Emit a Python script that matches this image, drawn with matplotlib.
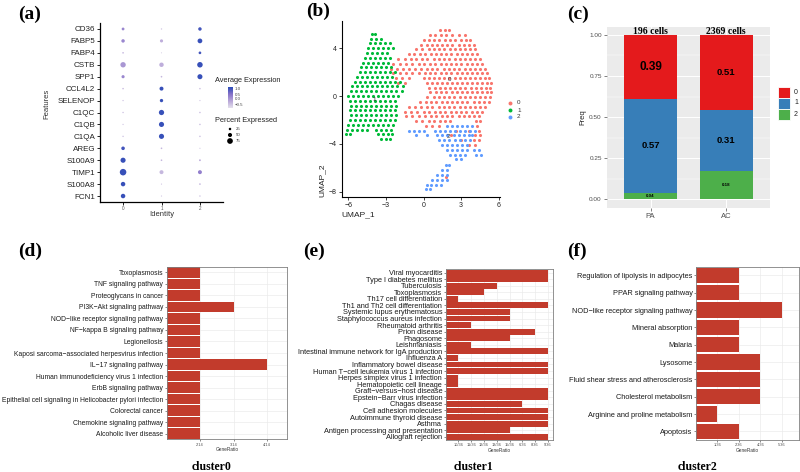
import numpy as np
import matplotlib
matplotlib.use("Agg")
import matplotlib.pyplot as plt
from matplotlib.colors import LinearSegmentedColormap
from matplotlib.patches import Rectangle

plt.rcParams['font.family'] = ['Liberation Sans', 'DejaVu Sans']
SERIF = 'Liberation Serif'

# ---------------- data ----------------
# (a) dot plot
genes = ["CD36", "FABP5", "FABP4", "CSTB", "SPP1", "CCL4L2", "SELENOP", "C1QC",
         "C1QB", "C1QA", "AREG", "S100A9", "TIMP1", "S100A8", "FCN1"]
identity = ["0", "1", "2"]
avg_exp = [[0.2, -0.6, 1.0], [0.2, -0.3, 1.1], [-0.3, -0.7, 1.0], [0.0, -0.3, 1.1],
           [0.2, -0.4, 1.1], [-0.4, 1.1, -0.5], [-0.5, 1.1, -0.6], [-0.5, 1.1, -0.5],
           [-0.6, 1.1, -0.5], [-0.5, 1.1, -0.5], [1.0, -0.4, -0.6], [1.1, -0.4, -0.3],
           [1.1, -0.4, 0.3], [1.1, -0.6, -0.4], [1.1, -0.6, -0.5]]
pct_exp = [[30, 8, 40], [40, 35, 60], [10, 3, 28], [70, 55, 72], [35, 12, 65],
           [10, 48, 10], [6, 38, 5], [8, 68, 10], [6, 66, 10], [8, 66, 10],
           [42, 12, 4], [66, 12, 15], [88, 48, 48], [56, 5, 12], [56, 5, 8]]
pct_keys = [25, 50, 75]

# (b) UMAP, rows of (y, [x ...])
umap_c0 = [
    (5.5, [1.3, 1.7, 2.0]),
    (5.1, [0.5, 0.9, 1.4, 1.8, 2.3, 2.8, 3.3]),
    (4.7, [0.0, 0.4, 0.8, 1.2, 1.7, 2.1, 2.5, 3.0, 3.4, 3.7]),
    (4.3, [-0.2, 0.3, 0.7, 1.1, 1.5, 1.9, 2.3, 2.8, 3.2, 3.6, 4.0]),
    (3.9, [-0.6, -0.1, 0.4, 0.8, 1.2, 1.6, 2.1, 2.5, 2.9, 3.3, 3.7, 4.1]),
    (3.5, [-1.2, -0.8, -0.3, 0.1, 0.6, 1.0, 1.4, 1.8, 2.2, 2.7, 3.1, 3.5, 3.9, 4.3]),
    (3.1, [-2.0, -1.5, -1.0, -0.6, -0.1, 0.3, 0.8, 1.2, 1.6, 2.0, 2.5, 2.9, 3.3, 3.7, 4.1, 4.5]),
    (2.7, [-2.4, -1.9, -1.4, -0.9, -0.4, 0.0, 0.5, 0.9, 1.4, 1.8, 2.2, 2.6, 3.0, 3.5, 3.9, 4.3, 4.7]),
    (2.3, [-2.6, -2.1, -1.6, -1.2, -0.7, -0.2, 0.3, 0.7, 1.1, 1.6, 2.0, 2.4, 2.8, 3.3, 3.7, 4.1, 4.5, 4.9]),
    (1.9, [-2.4, -1.9, -1.4, -0.9, -0.4, 0.1, 0.5, 0.9, 1.4, 1.8, 2.2, 2.7, 3.1, 3.5, 3.9, 4.3, 4.7, 5.1]),
    (1.5, [-2.2, -1.7, -1.2, 0.0, 0.4, 0.8, 1.2, 1.6, 2.0, 2.5, 2.9, 3.3, 3.7, 4.1, 4.5, 4.9, 5.2]),
    (1.1, [-2.0, -1.5, 0.3, 0.7, 1.1, 1.5, 1.9, 2.3, 2.7, 3.1, 3.5, 3.9, 4.3, 4.7, 5.1, 5.4]),
    (0.7, [0.4, 0.9, 1.3, 1.7, 2.1, 2.5, 2.9, 3.3, 3.8, 4.2, 4.6, 5.0, 5.3]),
    (0.3, [0.5, 1.0, 1.4, 1.8, 2.3, 2.7, 3.1, 3.5, 3.9, 4.3, 4.7, 5.1, 5.4]),
    (-0.1, [0.3, 0.8, 1.2, 1.6, 2.0, 2.4, 2.9, 3.3, 3.7, 4.1, 4.5, 4.9, 5.3]),
    (-0.5, [-0.3, 0.2, 0.6, 1.0, 1.5, 1.9, 2.3, 2.7, 3.1, 3.5, 4.0, 4.4, 4.8, 5.2]),
    (-0.9, [-1.2, -0.7, -0.2, 0.3, 0.7, 1.2, 1.6, 2.0, 2.4, 2.9, 3.3, 3.7, 4.1, 4.5, 4.9]),
    (-1.3, [-1.5, -1.0, -0.5, 0.0, 0.4, 0.9, 1.3, 1.7, 2.2, 2.6, 3.0, 3.4, 3.9, 4.3, 4.7]),
    (-1.7, [-1.4, -0.9, -0.4, 0.1, 0.6, 1.0, 1.5, 1.9, 2.3, 2.8, 3.2, 3.6, 4.0, 4.4]),
    (-2.1, [-0.6, -0.1, 0.4, 0.8, 1.3, 1.7, 2.1, 4.2, 4.5]),
    (-2.5, [0.2, 0.7, 1.2, 4.3]),
    (-2.9, [2.6, 3.6, 4.4]),
    (-3.3, [2.2, 4.1, 4.5]),
    (-3.7, [3.0, 4.0, 4.4]),
    (-4.1, [3.6, 4.1]),
    (-6.8, [1.8]),
]
umap_c1 = [
    (5.2, [-4.1, -3.9]),
    (4.8, [-4.2, -3.8, -3.4]),
    (4.4, [-4.3, -3.9, -3.5, -3.1, -2.7]),
    (4.0, [-4.4, -4.0, -3.6, -3.2, -2.8, -2.4]),
    (3.6, [-4.5, -4.1, -3.7, -3.3, -2.9]),
    (3.2, [-4.7, -4.3, -3.9, -3.5, -3.1, -2.7]),
    (2.8, [-4.8, -4.4, -4.0, -3.6, -3.2, -2.8]),
    (2.4, [-5.0, -4.6, -4.2, -3.8, -3.4, -3.0, -2.6]),
    (2.0, [-5.1, -4.7, -4.3, -3.9, -3.5, -3.1, -2.7, -2.3]),
    (1.6, [-5.3, -4.9, -4.5, -4.1, -3.7, -3.3, -2.9, -2.5]),
    (1.2, [-5.5, -5.1, -4.7, -4.3, -3.9, -3.5, -3.1, -2.7, -2.3, -1.9]),
    (0.8, [-5.7, -5.3, -4.9, -4.5, -4.1, -3.7, -3.3, -2.9, -2.5, -2.1, -1.6]),
    (0.4, [-5.8, -5.4, -5.0, -4.6, -4.2, -3.8, -3.4, -3.0, -2.6, -2.2, -1.7]),
    (0.0, [-6.0, -5.6, -5.2, -4.8, -4.4, -4.0, -3.6, -3.2, -2.8, -2.4, -2.0]),
    (-0.4, [-5.9, -5.5, -5.1, -4.7, -4.3, -3.9, -3.5, -3.1, -2.7, -2.3]),
    (-0.8, [-5.8, -5.4, -5.0, -4.6, -4.2, -3.8, -3.4, -3.0, -2.6, -2.2]),
    (-1.2, [-5.9, -5.5, -5.1, -4.7, -4.3, -3.9, -3.5, -3.1, -2.7, -2.3]),
    (-1.6, [-5.8, -5.4, -5.0, -4.6, -4.2, -3.8, -3.4, -3.0, -2.6, -2.2]),
    (-2.0, [-5.9, -5.5, -5.1, -4.7, -4.3, -3.9, -3.5, -3.1, -2.7, -2.3]),
    (-2.4, [-6.0, -5.6, -5.2, -4.8, -4.4, -4.0, -3.6, -3.2, -2.8, -2.4]),
    (-2.8, [-6.1, -5.7, -5.3, -4.9, -4.5, -3.8, -3.4, -3.0, -2.6]),
    (-3.2, [-6.2, -5.9, -3.6, -3.2, -2.8, -2.5]),
    (-3.6, [-3.4, -3.0, -2.7]),
]
umap_c2 = [
    (-2.5, [1.9, 2.3, 2.7, 3.1, 3.5, 3.9]),
    (-2.9, [-1.2, -0.8, -0.4, 0.0, 0.9, 1.3, 1.7, 2.1, 2.5, 2.9, 3.3, 3.7, 4.1]),
    (-3.3, [-0.6, 0.3, 1.1, 1.5, 1.9, 2.4, 2.8, 3.2, 3.6, 3.9]),
    (-3.7, [1.2, 1.6, 2.0, 2.5, 2.9, 3.3, 3.7]),
    (-4.1, [1.5, 1.9, 2.3, 2.7, 3.1, 3.5]),
    (-4.5, [1.9, 2.3, 2.7, 3.1, 3.5, 4.0, 4.4]),
    (-4.9, [2.1, 2.5, 2.9, 3.3, 4.2, 4.6]),
    (-5.3, [2.6, 3.0]),
    (-5.8, [1.8, 2.0]),
    (-6.2, [1.5, 1.9]),
    (-6.6, [1.1, 1.5, 1.9]),
    (-7.0, [0.7, 1.1, 1.5, 1.9]),
    (-7.4, [0.3, 0.6, 1.0, 1.4]),
    (-7.8, [0.2, 0.5]),
]
umap_centers = {"0": (2.1, 1.4), "1": (-3.9, -0.25), "2": (2.0, -3.4)}

# (c) stacked frequencies
groups = ["PA", "AC"]
cell_counts = ["196 cells", "2369 cells"]
freq_2 = [0.04, 0.174]
freq_1 = [0.57, 0.37]
freq_0 = [0.39, 0.456]
label_2 = ["0.04", "0.18"]
label_1 = ["0.57", "0.31"]
label_0 = ["0.39", "0.51"]

# (d) cluster0 KEGG
d_terms = ["Toxoplasmosis", "TNF signaling pathway", "Proteoglycans in cancer",
           "PI3K\u2212Akt signaling pathway", "NOD\u2212like receptor signaling pathway",
           "NF\u2212kappa B signaling pathway", "Legionellosis",
           "Kaposi sarcoma\u2212associated herpesvirus infection", "IL\u221217 signaling pathway",
           "Human immunodeficiency virus 1 infection", "ErbB signaling pathway",
           "Epithelial cell signaling in Helicobacter pylori infection", "Colorectal cancer",
           "Chemokine signaling pathway", "Alcoholic liver disease"]
d_levels = ["2/14", "3/14", "4/14"]
d_ratio = ["2/14", "2/14", "2/14", "3/14", "2/14", "2/14", "2/14", "2/14", "4/14",
           "2/14", "2/14", "2/14", "2/14", "2/14", "2/14"]

# (e) cluster1 KEGG
e_terms = ["Viral myocarditis", "Type I diabetes mellitus", "Tuberculosis", "Toxoplasmosis",
           "Th17 cell differentiation", "Th1 and Th2 cell differentiation",
           "Systemic lupus erythematosus", "Staphylococcus aureus infection",
           "Rheumatoid arthritis", "Prion disease", "Phagosome", "Leishmaniasis",
           "Intestinal immune network for IgA production", "Influenza A",
           "Inflammatory bowel disease", "Human T\u2212cell leukemia virus 1 infection",
           "Herpes simplex virus 1 infection", "Hematopoietic cell lineage",
           "Graft\u2212versus\u2212host disease", "Epstein\u2212Barr virus infection",
           "Chagas disease", "Cell adhesion molecules", "Autoimmune thyroid disease",
           "Asthma", "Antigen processing and presentation", "Allograft rejection"]
e_levels = ["10/36", "11/36", "12/36", "13/36", "15/36", "6/36", "8/36", "9/36"]
e_ratio = ["9/36", "9/36", "13/36", "12/36", "10/36", "9/36", "15/36", "15/36",
           "11/36", "8/36", "15/36", "11/36", "9/36", "10/36", "9/36", "9/36",
           "10/36", "10/36", "9/36", "9/36", "6/36", "9/36", "9/36", "9/36",
           "15/36", "9/36"]

# (f) cluster2 KEGG
f_terms = ["Regulation of lipolysis in adipocytes", "PPAR signaling pathway",
           "NOD\u2212like receptor signaling pathway", "Mineral absorption", "Malaria",
           "Lysosome", "Fluid shear stress and atherosclerosis", "Cholesterol metabolism",
           "Arginine and proline metabolism", "Apoptosis"]
f_levels = ["1/36", "2/36", "4/36", "5/36"]
f_ratio = ["2/36", "2/36", "5/36", "2/36", "2/36", "4/36", "4/36", "4/36", "1/36", "2/36"]

# ---------------- figure ----------------
W, H = 800, 472
fig = plt.figure(figsize=(8, 4.72), dpi=100)

# overlay in pixel coords for letters / legends, drawn on top
ov = fig.add_axes([0, 0, 1, 1])
ov.set_xlim(0, W)
ov.set_ylim(H, 0)
ov.axis("off")
ov.set_zorder(10)


def px_axes(x0, y0, x1, y1):
    return fig.add_axes([x0 / W, 1 - y1 / H, (x1 - x0) / W, (y1 - y0) / H])


def dot_size(p):
    d = (0.9 + 0.064 * np.asarray(p, dtype=float)) * 0.72
    return d ** 2


# ---- (a) ----
cmap_a = LinearSegmentedColormap.from_list("avg", ["#E4E0EC", "#B8A6D8", "#8470C8", "#2A4BB7"])
ax = px_axes(100, 23, 223, 202)
ax.patch.set_alpha(0)
n = len(genes)
xs, ys, cs, ss = [], [], [], []
for i, g in enumerate(genes):
    for j in range(len(identity)):
        xs.append(j)
        ys.append(n - 1 - i)
        cs.append(avg_exp[i][j])
        ss.append(pct_exp[i][j])
sc = ax.scatter(xs, ys, s=dot_size(ss), c=cs, cmap=cmap_a, vmin=-0.9, vmax=1.2, lw=0)
ax.set_xlim(-0.6, 2.6)
ax.set_ylim(-0.5, n - 0.5)
ax.set_yticks(range(n))
ax.set_yticklabels(genes[::-1], fontsize=5.8, color="#222222")
ax.set_xticks(range(3))
ax.set_xticklabels(identity, fontsize=3.3, color="#555555")
for s in ["top", "right"]:
    ax.spines[s].set_visible(False)
for s in ["left", "bottom"]:
    ax.spines[s].set_linewidth(0.9)
ax.tick_params(length=2, width=0.6, pad=1.5)
ax.tick_params(axis="x", pad=1)
ax.set_ylabel("Features", fontsize=5.5, color="#333333")
ax.yaxis.set_label_coords(-0.40, 0.55)
ax.set_xlabel("Identity", fontsize=5.5, color="#333333")
ax.xaxis.set_label_coords(0.5, -0.048)

cax = px_axes(228, 87, 233, 108)
cb = fig.colorbar(sc, cax=cax)
cb.set_ticks([-0.5, 0.0, 0.5, 1.0])
cb.set_ticklabels(["\u22120.5", "0.0", "0.5", "1.0"])
cb.outline.set_visible(False)
cax.tick_params(labelsize=3.2, length=0, pad=1.5, colors="#444444")
ov.text(215, 81, "Average Expression", fontsize=5.3, va="center", ha="left", color="#222222")
ov.text(215, 121, "Percent Expressed", fontsize=5.3, va="center", ha="left", color="#222222")
key_y = [129, 135, 141]
ov.scatter([230] * 3, key_y, s=dot_size(pct_keys), color="black", lw=0)
for k, yk in zip(pct_keys, key_y):
    ov.text(236, yk, str(k), fontsize=3.2, va="center", color="#444444")

# ---- (b) ----
ax = px_axes(341.7, 20.7, 500, 196.7)
ax.patch.set_alpha(0)
cl_colors = {"0": "#F8766D", "1": "#00BA38", "2": "#619CFF"}
for key, rows in [("0", umap_c0), ("1", umap_c1), ("2", umap_c2)]:
    px = [x for y, row in rows for x in row]
    py = [y for y, row in rows for x in row]
    ax.scatter(px, py, s=5.0, color=cl_colors[key], lw=0)
for key, (cx, cy) in umap_centers.items():
    ax.text(cx, cy, key, fontsize=4.5, ha="center", va="center", color="#333333")
ax.set_xlim(-6.53, 6.1)
ax.set_ylim(-8.42, 6.3)
ax.set_xticks([-6, -3, 0, 3, 6])
ax.set_yticks([-8, -4, 0, 4])
ax.tick_params(labelsize=5, length=2, width=0.6, pad=1.5, colors="#222222")
for s in ["top", "right"]:
    ax.spines[s].set_visible(False)
for s in ["left", "bottom"]:
    ax.spines[s].set_linewidth(0.8)
ax.set_xlabel("UMAP_1", fontsize=6, loc="left", labelpad=2, color="#222222")
ax.set_ylabel("UMAP_2", fontsize=6, loc="bottom", labelpad=2, color="#222222")
for key, yk in zip(["0", "1", "2"], [103, 110, 117]):
    ov.scatter([510], [yk], s=8, color=cl_colors[key], lw=0)
    ov.text(517, yk, key, fontsize=4.5, va="center", color="#333333")

# ---- (c) ----
ax = px_axes(606.7, 26.7, 770, 208)
ax.set_facecolor("#EBEBEB")
xb = np.arange(1, len(groups) + 1)
red, blue, green = "#E41A1C", "#377EB8", "#4DAF4A"
ax.bar(xb, freq_2, width=0.7, color=green, zorder=3)
ax.bar(xb, freq_1, width=0.7, bottom=freq_2, color=blue, zorder=3)
bot0 = [a + b for a, b in zip(freq_2, freq_1)]
ax.bar(xb, freq_0, width=0.7, bottom=bot0, color=red, zorder=3)
big = [[8.5, 6.8, 3.2], [6.8, 6.8, 3.2]]
for k in range(len(groups)):
    ax.text(xb[k], freq_0[k] / 2 + bot0[k], label_0[k], fontsize=big[k][0], fontweight="bold",
            ha="center", va="center", zorder=4)
    ax.text(xb[k], freq_1[k] / 2 + freq_2[k], label_1[k], fontsize=big[k][1], fontweight="bold",
            ha="center", va="center", zorder=4)
    ax.text(xb[k], freq_2[k] / 2, label_2[k], fontsize=big[k][2], fontweight="bold",
            ha="center", va="center", zorder=4)
    ax.text(xb[k], 1.022, cell_counts[k], fontsize=7, fontweight="bold", family=SERIF,
            ha="center", va="center", zorder=4)
ax.set_xlim(0.42, 2.58)
ax.set_ylim(-0.053, 1.05)
ax.set_yticks([0, 0.25, 0.5, 0.75, 1.0])
ax.set_yticklabels(["0.00", "0.25", "0.50", "0.75", "1.00"])
ax.set_yticks([0.125, 0.375, 0.625, 0.875], minor=True)
ax.set_xticks(xb)
ax.set_xticklabels(groups)
ax.grid(which="major", color="white", lw=0.7, zorder=0)
ax.grid(which="minor", axis="y", color="white", lw=0.35, zorder=0)
ax.tick_params(which="major", labelsize=4.6, length=2, width=0.5, pad=1.5,
               colors="#4D4D4D")
ax.tick_params(axis="x", labelsize=5.5)
ax.tick_params(which="minor", length=0)
for s in ax.spines.values():
    s.set_visible(False)
ax.set_ylabel("Freq", fontsize=5.5, labelpad=2, color="#222222")
for col, y0 in zip([red, blue, green], [87, 98, 109]):
    ov.add_patch(Rectangle((778, y0), 12, 10.5, facecolor=col, edgecolor="white", lw=0.6))
for lab, y0 in zip(["0", "1", "2"], [92, 103, 114]):
    ov.text(794, y0, lab, fontsize=5, va="center", color="#222222")

# ---- (d)(e)(f) ----
BAR_RED = "#C23B2C"


def go_bar(box, terms, ratio, levels, fs, xmax):
    ax = px_axes(*box)
    pos = [levels.index(r) + 1 for r in ratio]
    y = np.arange(len(terms))
    ax.barh(y, pos, height=0.9, color=BAR_RED, zorder=2)
    ax.set_yticks(y)
    ax.set_yticklabels(terms, fontsize=fs, color="#1A1A1A")
    ax.set_ylim(len(terms) - 0.5, -0.5)
    ax.set_xticks(range(1, len(levels) + 1))
    ax.set_xticklabels(levels, fontsize=2.8, color="#4D4D4D")
    ax.set_xlim(0, xmax)
    ax.grid(color="#EBEBEB", lw=0.5, zorder=0)
    ax.set_axisbelow(True)
    for s in ax.spines.values():
        s.set_color("#808080")
        s.set_linewidth(0.6)
    ax.tick_params(length=1.5, width=0.4, color="#333333", pad=1)
    ax.set_xlabel("GeneRatio", fontsize=3.4, labelpad=0.5, color="#333333")
    return ax


go_bar((166.7, 266.7, 287, 439.3), d_terms, d_ratio, d_levels, 4.9, 3.6)
go_bar((445.7, 269.3, 553, 440), e_terms, e_ratio, e_levels, 5.3, 8.4)
go_bar((696, 266.7, 799, 440), f_terms, f_ratio, f_levels, 5.3, 4.8)

for lab, xx in [("cluster0", 212), ("cluster1", 474), ("cluster2", 698)]:
    ov.text(xx, 467, lab, fontsize=8.5, fontweight="bold", family=SERIF,
            ha="center", va="center")

# panel letters
for lab, xx, yy in [("(a)", 18, 14), ("(b)", 306, 11), ("(c)", 567, 14),
                    ("(d)", 18, 251), ("(e)", 303, 251), ("(f)", 567, 251)]:
    ov.text(xx, yy, lab, fontsize=14, fontweight="bold", family=SERIF,
            ha="left", va="center")

fig.savefig("out.png", dpi=100)
